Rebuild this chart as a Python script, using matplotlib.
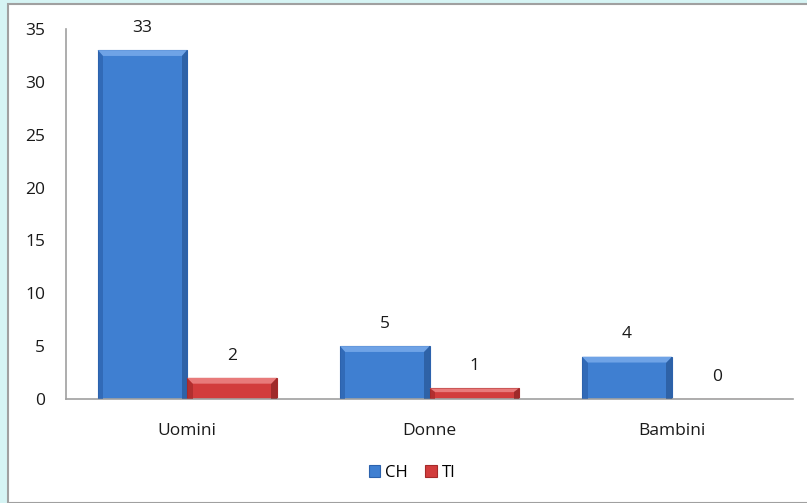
import matplotlib
matplotlib.use("Agg")
import matplotlib.pyplot as plt
from matplotlib.patches import Rectangle, Polygon
import numpy as np

categories = ["Uomini", "Donne", "Bambini"]
series_names = ["CH", "TI"]
ch_values = [33, 5, 4]
ti_values = [2, 1, 0]
y_ticks = [0, 5, 10, 15, 20, 25, 30, 35]

plt.rcParams['font.family'] = ['Open Sans', 'DejaVu Sans']

W, H = 807, 503
fig = plt.figure(figsize=(W/100, H/100), dpi=100)
fig.patch.set_facecolor('#d6f4f4')
fig.patches.append(Rectangle((8/W, 0), 1, 1 - 4/H, transform=fig.transFigure,
                             facecolor='white', edgecolor='#a0a0a0', linewidth=1.5, zorder=-5))

ax = fig.add_axes([66/W, 1 - 399/H, (793-66)/W, (399-29)/H])
ax.set_facecolor('none')
ax.set_zorder(2)

x = np.arange(len(categories))
bw = 0.37
colors = [('#3f7fd1', '#2c62ad', '#6fa3e6', '#234f8c'), ('#d23c3c', '#a52a2a', '#e87a7a', '#7e1e1e')]

def bevel(ax, bars, col):
    face, edge, light, dark = col
    for b in bars:
        bx, by, bw_, bh = b.get_x(), b.get_y(), b.get_width(), b.get_height()
        if bh <= 0:
            continue
        dx = bw_ * 0.06
        dy = min(bh * 0.35, 0.55)
        ax.add_patch(Polygon([(bx, by+bh), (bx+bw_, by+bh), (bx+bw_-dx, by+bh-dy), (bx+dx, by+bh-dy)],
                             closed=True, facecolor=light, edgecolor='none', zorder=3))
        ax.add_patch(Polygon([(bx+bw_, by+bh), (bx+bw_, by), (bx+bw_-dx, by), (bx+bw_-dx, by+bh-dy)],
                             closed=True, facecolor=dark, edgecolor='none', alpha=0.6, zorder=3))
        ax.add_patch(Polygon([(bx, by+bh), (bx, by), (bx+dx, by), (bx+dx, by+bh-dy)],
                             closed=True, facecolor=edge, edgecolor='none', alpha=0.7, zorder=3))

for vals, off, col, name in [(ch_values, -bw/2, colors[0], series_names[0]),
                             (ti_values, bw/2, colors[1], series_names[1])]:
    bars = ax.bar(x + off, vals, bw, color=col[0], edgecolor=col[1], linewidth=0.8,
                  label=name, zorder=2)
    bevel(ax, bars, col)
    for b, v in zip(bars, vals):
        ax.annotate(str(v), (b.get_x() + b.get_width()/2, v), xytext=(0, 16),
                    textcoords='offset points', ha='center', va='center',
                    fontsize=12.5, color='#1a1a1a')

ax.set_xlim(-0.5, len(categories) - 0.5)
ax.set_ylim(0, 35)
ax.set_yticks(y_ticks)
ax.set_xticks(x)
ax.set_xticklabels(categories)
ax.tick_params(axis='both', length=0, labelsize=12.5, colors='#1a1a1a')
ax.tick_params(axis='y', pad=15)
ax.tick_params(axis='x', pad=17)
for s in ['top', 'right']:
    ax.spines[s].set_visible(False)
for s in ['left', 'bottom']:
    ax.spines[s].set_color('#a0a0a0')
    ax.spines[s].set_linewidth(1.2)

leg = fig.legend(loc='center', bbox_to_anchor=(412/W, 1 - 473/H), ncol=2, frameon=False,
                 fontsize=12, handlelength=0.7, handleheight=0.7, handletextpad=0.3,
                 columnspacing=1.0)

fig.savefig('out.png', dpi=100, facecolor=fig.get_facecolor())
